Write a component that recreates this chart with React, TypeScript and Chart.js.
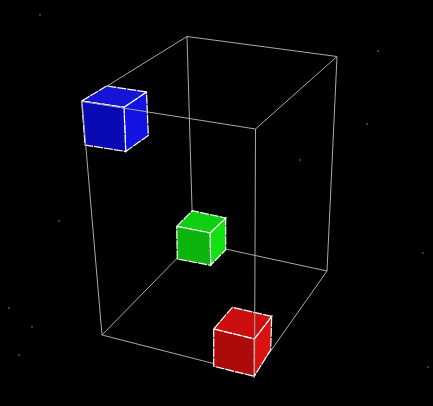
import { useEffect, useRef } from "react";
import Chart from "chart.js/auto";

type Pt = [number, number];

// wireframe box corners (screen units of the picture, y down)
// 0 back-top-left, 1 back-top-right, 2 front-top-right, 3 front-top-left,
// 4 back-bottom-left, 5 back-bottom-right, 6 front-bottom-right, 7 front-bottom-left
const boxX = [187, 337, 255.5, 82, 193, 327, 254.5, 102];
const boxY = [36.5, 56.5, 129, 101.5, 242, 271, 374, 335];
const backEdges: Pt[] = [
  [0, 1], [1, 2], [3, 0],
  [4, 5], [5, 6], [6, 7], [7, 4],
  [0, 4], [1, 5],
];
const frontEdges: Pt[] = [[2, 3], [2, 6], [3, 7]];

// cube faces: front, top, right
const blueFront: Pt[] = [[81.7, 101], [124, 107.3], [125.7, 151.5], [85, 145]];
const blueTop: Pt[] = [[81.7, 101], [106.7, 86], [146.5, 92], [124, 107.3]];
const blueRight: Pt[] = [[124, 107.3], [146.5, 92], [148.3, 135.5], [125.7, 151.5]];

const greenFront: Pt[] = [[176.7, 226.3], [210, 233], [210.7, 265.3], [177.3, 259]];
const greenTop: Pt[] = [[176.7, 226.3], [192.3, 210.7], [225.7, 218], [210, 233]];
const greenRight: Pt[] = [[210, 233], [225.7, 218], [225.7, 249.7], [210.7, 265.3]];

const redFront: Pt[] = [[213.7, 329], [254.3, 339], [254.3, 376.3], [213.7, 366.3]];
const redTop: Pt[] = [[213.7, 329], [232.3, 307.3], [271.7, 316.3], [254.3, 339]];
const redRight: Pt[] = [[254.3, 339], [271.7, 316.3], [270.7, 349.7], [254.3, 376.3]];

// faint background stars
const starX = [9, 32, 19, 59, 423, 428, 378, 367, 40, 300];
const starY = [308, 327, 355, 221, 253, 367, 51, 124, 15, 160];

const toXY = (pts: Pt[]) => pts.map(([x, y]) => ({ x, y }));
const closed = (pts: Pt[]) => toXY([...pts, pts[0]]);

export default function App() {
  const ref = useRef<HTMLCanvasElement | null>(null);
  const chartRef = useRef<Chart | null>(null);

  useEffect(() => {
    document.body.style.margin = "0";
    document.body.style.background = "#000";
    if (!ref.current) return;
    chartRef.current?.destroy();

    const edge = (e: Pt, order: number) => ({
      data: [
        { x: boxX[e[0]], y: boxY[e[0]] },
        { x: boxX[e[1]], y: boxY[e[1]] },
      ],
      showLine: true,
      borderColor: "#a9a9a9",
      borderWidth: 1,
      pointRadius: 0,
      fill: false,
      order,
    });

    const face = (pts: Pt[], color: string) => ({
      data: closed(pts),
      showLine: true,
      borderColor: "#ffffff",
      borderWidth: 1.2,
      borderDash: [9, 1],
      backgroundColor: color,
      pointRadius: 0,
      fill: "shape" as const,
      order: 2,
    });

    chartRef.current = new Chart(ref.current, {
      type: "scatter",
      data: {
        datasets: [
          ...frontEdges.map((e) => edge(e, 0)),
          face(blueFront, "#0a0ab4"),
          face(blueTop, "#1414d2"),
          face(blueRight, "#1212e2"),
          face(greenFront, "#0ab40c"),
          face(greenTop, "#10cf10"),
          face(greenRight, "#12e212"),
          face(redFront, "#ad0a0a"),
          face(redTop, "#cd0e0e"),
          face(redRight, "#d91212"),
          ...backEdges.map((e) => edge(e, 4)),
          {
            data: starX.map((x, i) => ({ x, y: starY[i] })),
            pointRadius: 1,
            pointBorderWidth: 0,
            backgroundColor: "rgba(150,150,150,0.5)",
            order: 6,
          },
        ],
      },
      options: {
        animation: false,
        responsive: false,
        events: [],
        layout: { padding: 0, autoPadding: false },
        plugins: { legend: { display: false }, tooltip: { enabled: false } },
        scales: {
          x: { type: "linear", min: 0, max: 433, display: false },
          y: { type: "linear", min: 0, max: 406, reverse: true, display: false },
        },
      },
    });
    return () => chartRef.current?.destroy();
  }, []);

  return (
    <div style={{ width: 433, height: 406, background: "#000" }}>
      <canvas ref={ref} width={433} height={406} style={{ width: 433, height: 406 }} />
    </div>
  );
}
